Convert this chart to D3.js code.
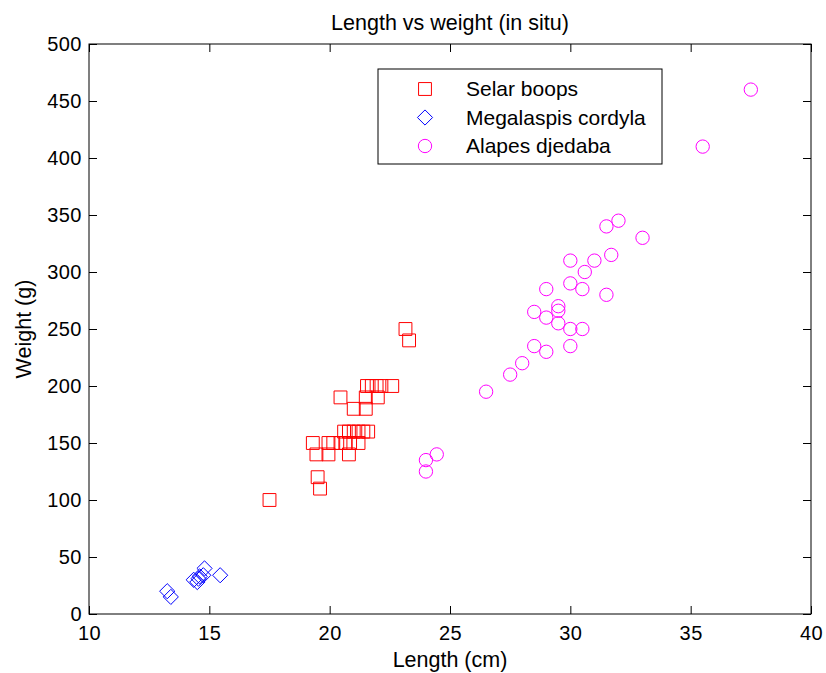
<!DOCTYPE html>
<html lang="en">
<head>
<meta charset="UTF-8">
<script src="https://d3js.org/d3.v7.min.js"></script>
<title>Length vs weight</title>
<style>
  body { margin: 0; background: #fff; }
  text { font-family: "Liberation Sans", Arial, sans-serif; fill: #000; }
</style>
</head>
<body>
<div id="chart"></div>
<script>
// Selar boops: [length cm, weight g]
const selarBoops = [
  [17.5, 100], [19.6, 110], [19.5, 120],
  [19.45, 140], [19.95, 140], [20.8, 140],
  [19.3, 150], [19.95, 150], [20.15, 150], [20.45, 150], [20.65, 150], [20.85, 150], [21.2, 150],
  [20.6, 160], [20.8, 160], [21.0, 160], [21.2, 160], [21.4, 160], [21.6, 160],
  [21.0, 180], [21.5, 180],
  [20.45, 190], [21.5, 190], [22.0, 190],
  [21.55, 200], [21.75, 200], [21.95, 200], [22.15, 200], [22.6, 200],
  [23.15, 250], [23.3, 240]
];
// Megalaspis cordyla
const megalaspis = [
  [13.25, 20], [13.4, 15], [14.35, 30], [14.5, 28], [14.55, 31], [14.6, 33],
  [14.75, 34], [14.8, 40], [15.45, 34]
];
// Alapes djedaba
const alapes = [
  [24.0, 125], [24.0, 135], [24.45, 140], [26.5, 195], [27.5, 210], [28.0, 220],
  [28.5, 235], [29.0, 230], [30.0, 235], [30.0, 250], [30.5, 250],
  [29.5, 255], [29.0, 260], [28.5, 265], [29.5, 266], [29.5, 270],
  [31.5, 280], [29.0, 285], [30.5, 285], [30.0, 290], [30.6, 300],
  [30.0, 310], [31.0, 310], [31.7, 315], [33.0, 330], [31.5, 340], [32.0, 345],
  [35.5, 410], [37.5, 460]
];
const seriesNames = ["Selar boops", "Megalaspis cordyla", "Alapes djedaba"];
const xTicks = [10, 15, 20, 25, 30, 35, 40];
const yTicks = [0, 50, 100, 150, 200, 250, 300, 350, 400, 450, 500];

const W = 826, H = 673;
const margin = { top: 44, right: 15, bottom: 59, left: 89 };
const svg = d3.select("#chart").append("svg").attr("width", W).attr("height", H);
const width = W - margin.left - margin.right;
const height = H - margin.top - margin.bottom;
const chart = svg.append("g").attr("transform", `translate(${margin.left},${margin.top})`);

const x = d3.scaleLinear().domain([10, 40]).range([0, width]);
const y = d3.scaleLinear().domain([0, 500]).range([height, 0]);

// axes (box with inward ticks on all four sides)
function styleAxis(g, noText) {
  g.select(".domain").remove();
  g.selectAll("line").attr("stroke", "#000");
  g.selectAll("text").style("font-size", "20px").style("letter-spacing", "0.5px");
  if (noText) g.selectAll("text").remove();
}
chart.append("g").attr("transform", `translate(0,${height})`)
  .call(d3.axisBottom(x).tickValues(xTicks).tickSizeInner(-8).tickPadding(12))
  .call(g => styleAxis(g));
chart.append("g")
  .call(d3.axisTop(x).tickValues(xTicks).tickSizeInner(-8))
  .call(g => styleAxis(g, true));
chart.append("g")
  .call(d3.axisLeft(y).tickValues(yTicks).tickSizeInner(-8).tickPadding(7))
  .call(g => styleAxis(g));
chart.append("g").attr("transform", `translate(${width},0)`)
  .call(d3.axisRight(y).tickValues(yTicks).tickSizeInner(-8))
  .call(g => styleAxis(g, true));
chart.append("rect").attr("width", width).attr("height", height)
  .attr("fill", "none").attr("stroke", "#000").attr("stroke-width", 1);

// rhombus with equal diagonals
const rhombus = {
  draw(ctx, size) {
    const r = Math.sqrt(size / 2);
    ctx.moveTo(0, -r); ctx.lineTo(r, 0); ctx.lineTo(0, r); ctx.lineTo(-r, 0); ctx.closePath();
  }
};
const sym = {
  square: d3.symbol().type(d3.symbolSquare).size(165),
  diamond: d3.symbol().type(rhombus).size(115),
  circle: d3.symbol().type(d3.symbolCircle).size(140)
};
const series = [
  { data: selarBoops, color: "#ff0000", shape: sym.square },
  { data: megalaspis, color: "#0000ff", shape: sym.diamond },
  { data: alapes, color: "#ff00ff", shape: sym.circle }
];
series.forEach(s => {
  chart.append("g").selectAll("path").data(s.data).join("path")
    .attr("transform", d => `translate(${x(d[0])},${y(d[1])})`)
    .attr("d", s.shape)
    .attr("fill", "none").attr("stroke", s.color).attr("stroke-width", 1);
});

// legend
const lg = svg.append("g").attr("transform", "translate(378,69)");
lg.append("rect").attr("width", 284).attr("height", 95)
  .attr("fill", "#fff").attr("stroke", "#000");
series.forEach((s, i) => {
  const yy = 20 + i * 28.5;
  lg.append("path").attr("transform", `translate(47,${yy})`).attr("d", s.shape)
    .attr("fill", "none").attr("stroke", s.color);
  lg.append("text").attr("x", 88).attr("y", yy).attr("dy", "0.35em")
    .style("font-size", "21px").text(seriesNames[i]);
});

// titles
svg.append("text").attr("x", margin.left + width / 2).attr("y", 30)
  .attr("text-anchor", "middle").style("font-size", "21.5px").text("Length vs weight (in situ)");
svg.append("text").attr("x", margin.left + width / 2).attr("y", 667)
  .attr("text-anchor", "middle").style("font-size", "21.5px").text("Length (cm)");
svg.append("text").attr("transform", `translate(31,${margin.top + height / 2}) rotate(-90)`)
  .attr("text-anchor", "middle").style("font-size", "21.5px").text("Weight (g)");
</script>
</body>
</html>
